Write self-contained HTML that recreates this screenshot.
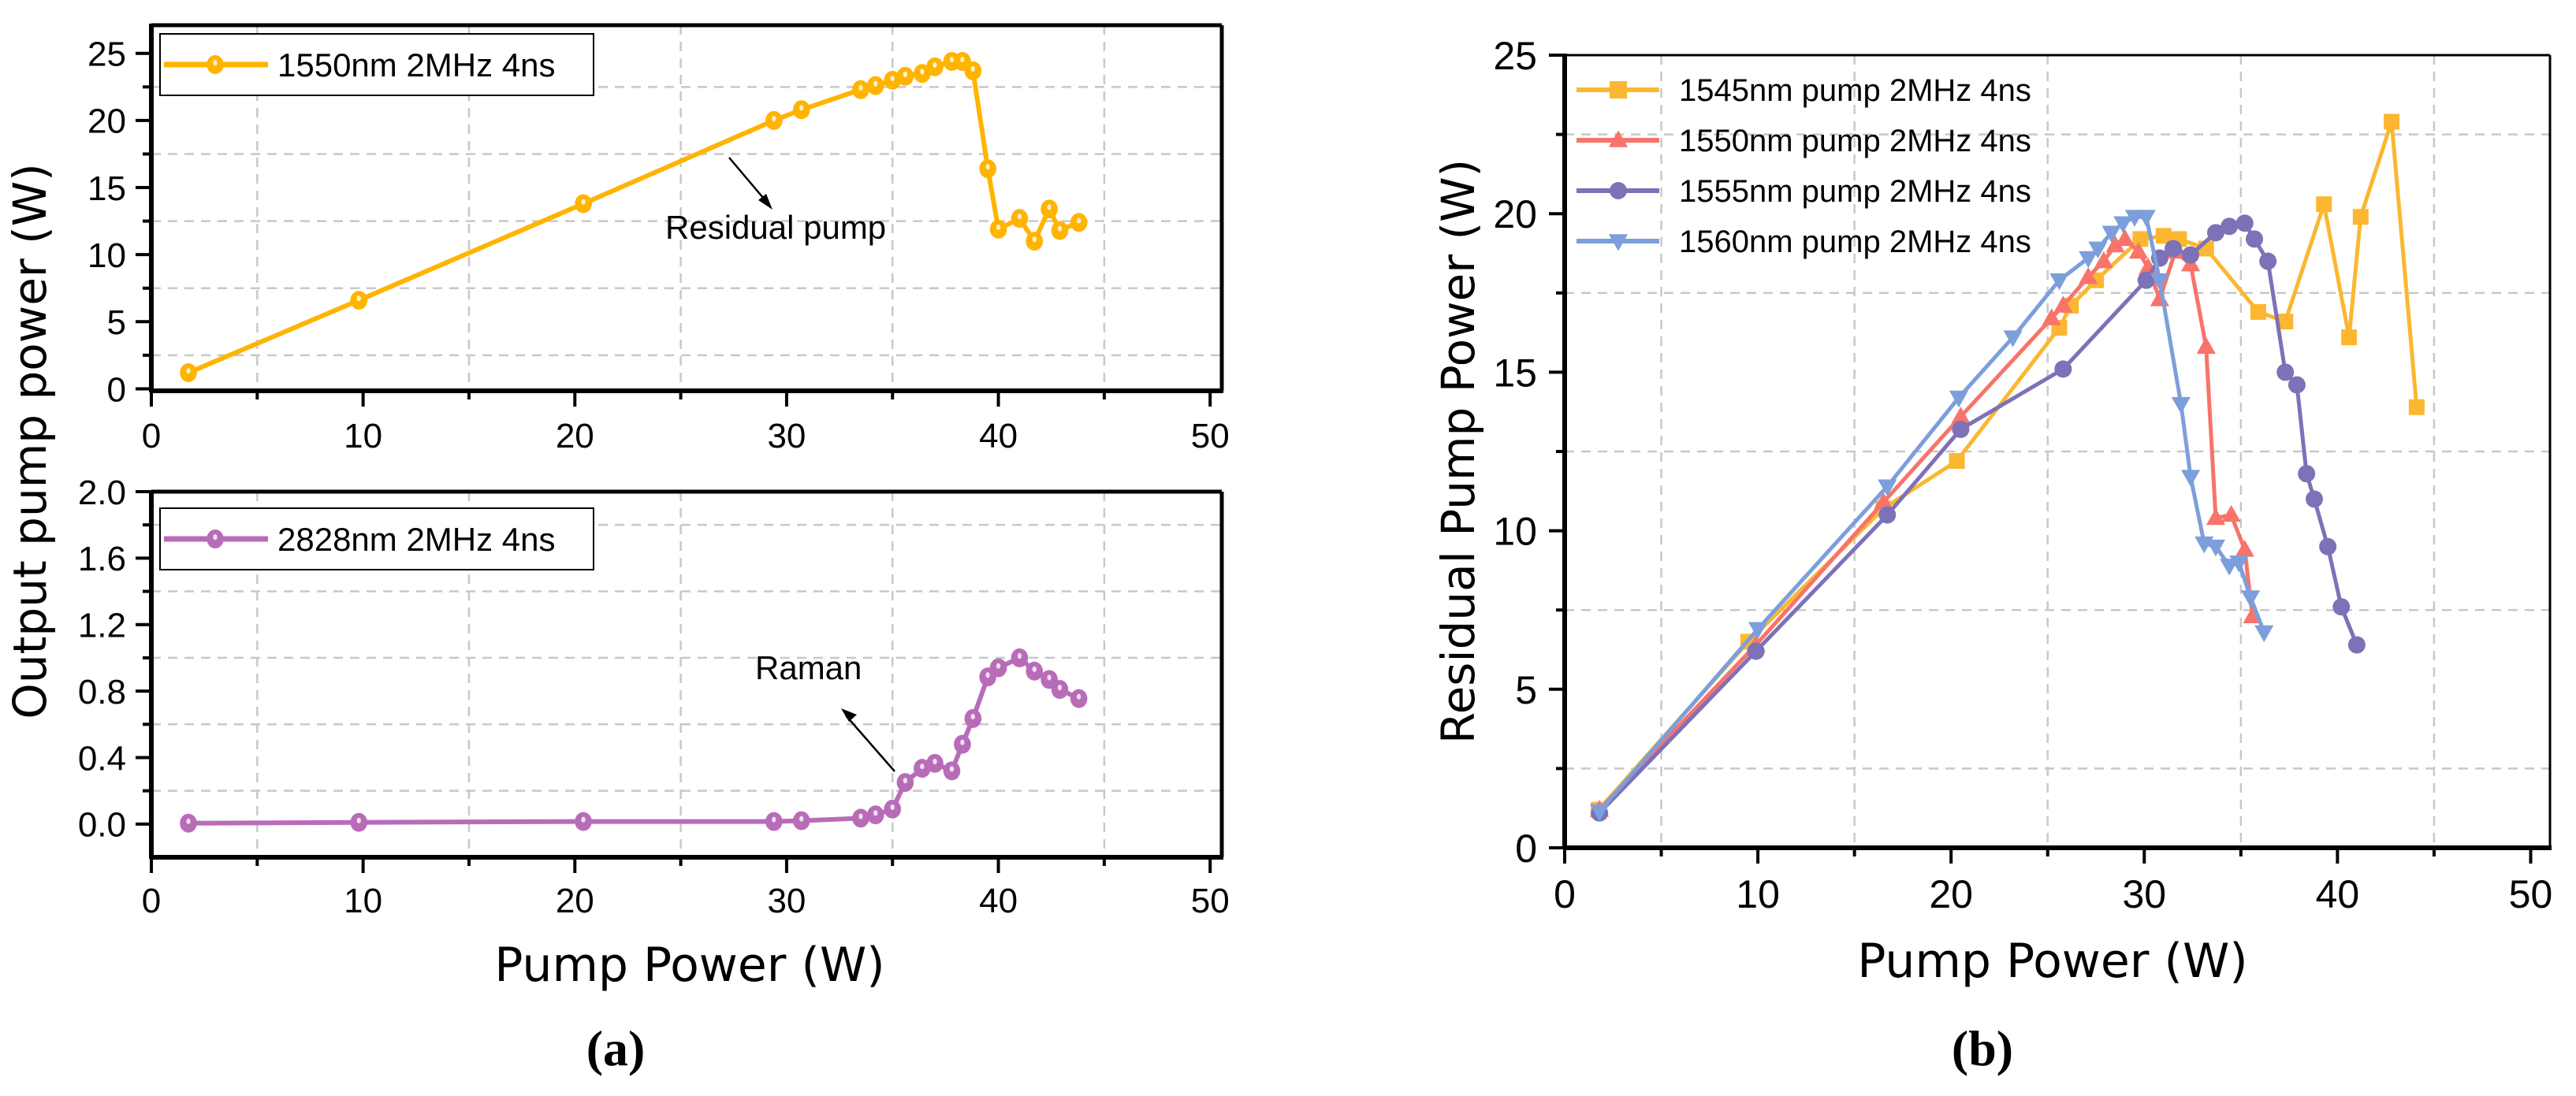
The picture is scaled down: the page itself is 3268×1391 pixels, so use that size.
<!DOCTYPE html>
<html><head><meta charset="utf-8">
<style>
html,body{margin:0;padding:0;background:#fff;}
svg{display:block;}
text{font-family:"Liberation Sans Narrow","Liberation Sans",sans-serif;fill:#000;}
</style></head>
<body>
<svg id="fig" width="3268" height="1391" viewBox="0 0 3268 1391" xmlns="http://www.w3.org/2000/svg"></svg>
<script>
// ---- Panel (a) top: 1550nm residual pump ----
const aX = [1.75,9.8,20.4,29.4,30.7,33.5,34.2,35.0,35.6,36.4,37.0,37.8,38.3,38.8,39.5,40.0,41.0,41.7,42.4,42.9,43.8];
const aTopY = [1.2,6.6,13.8,20.0,20.8,22.3,22.6,23.0,23.3,23.5,24.0,24.4,24.4,23.7,16.4,11.9,12.7,11.0,13.4,11.8,12.4];
// ---- Panel (a) bottom: 2828nm Raman ----
const aBotY = [0.005,0.01,0.015,0.015,0.02,0.035,0.055,0.09,0.25,0.335,0.365,0.32,0.48,0.635,0.885,0.94,1.0,0.92,0.87,0.81,0.755];
const aXTicks = [0,10,20,30,40,50];
const aTopYTicks = [0,5,10,15,20,25];
const aBotYTicks = [0.0,0.4,0.8,1.2,1.6,2.0];
// ---- Panel (b) ----
const b1545X = [1.76,9.5,16.5,20.3,25.6,26.2,27.5,29.8,31.0,31.8,33.2,35.9,37.3,39.3,40.6,41.2,42.8,44.1];
const b1545Y = [1.2,6.5,10.7,12.2,16.4,17.1,17.9,19.2,19.3,19.2,18.9,16.9,16.6,20.3,16.1,19.9,22.9,13.9];
const b1550X = [1.8,9.9,16.5,20.5,25.2,25.8,27.1,27.9,28.5,29.0,29.7,30.2,30.8,31.6,32.4,33.2,33.7,34.5,35.2,35.6];
const b1550Y = [1.2,6.4,10.9,13.6,16.7,17.1,18.0,18.5,19.0,19.2,18.8,18.3,17.3,18.8,18.4,15.8,10.4,10.5,9.4,7.3];
const b1555X = [1.8,9.9,16.7,20.5,25.8,30.1,30.8,31.5,32.4,33.7,34.4,35.2,35.7,36.4,37.3,37.9,38.4,38.8,39.5,40.2,41.0];
const b1555Y = [1.1,6.2,10.5,13.2,15.1,17.9,18.6,18.9,18.7,19.4,19.6,19.7,19.2,18.5,15.0,14.6,11.8,11.0,9.5,7.6,6.4];
const b1560X = [1.8,10.0,16.7,20.4,23.2,25.6,27.1,27.6,28.3,28.9,29.5,30.1,30.8,31.9,32.4,33.1,33.7,34.4,34.9,35.5,36.2];
const b1560Y = [1.15,6.9,11.4,14.2,16.1,17.9,18.6,18.9,19.4,19.7,19.9,19.9,17.9,14.0,11.7,9.6,9.5,8.9,9.0,7.9,6.8];
const bXTicks = [0,10,20,30,40,50];
const bYTicks = [0,5,10,15,20,25];
const bLabels = ["1545nm pump 2MHz 4ns","1550nm pump 2MHz 4ns","1555nm pump 2MHz 4ns","1560nm pump 2MHz 4ns"];

const NS="http://www.w3.org/2000/svg";
const svg=document.getElementById('fig');
function mk(tag,attrs,parent){const e=document.createElementNS(NS,tag);for(const k in attrs)e.setAttribute(k,attrs[k]);(parent||svg).appendChild(e);return e;}
function txt(s,attrs,parent){const e=mk('text',attrs,parent);e.textContent=s;return e;}

function axes(o){
  const sx=v=>o.x0+(v-o.xmin)/(o.xmax-o.xmin)*(o.x1-o.x0);
  const sy=v=>o.y1-(v-o.ymin)/(o.ymax-o.ymin)*(o.y1-o.y0);
  return {sx,sy};
}

function panel(o){
  const g=mk('g',{});
  
  
  const {sx,sy}=axes(o);
  const grid=mk('g',{stroke:'#c8c8c8','stroke-width':2.5,'stroke-dasharray':'12,9'},g);
  
  
  o.xGrid.forEach(v=>mk('line',{x1:sx(v),x2:sx(v),y1:o.y0,y2:o.y1},grid));
  o.yGrid.forEach(v=>mk('line',{x1:o.x0,x2:o.x1,y1:sy(v),y2:sy(v)},grid));
  mk('line',{x1:o.x0,x2:o.x1,y1:o.y0,y2:o.y0,stroke:'#000','stroke-width':o.topW},g);
  mk('line',{x1:o.x1,x2:o.x1,y1:o.y0,y2:o.y1,stroke:'#000','stroke-width':o.topW},g);
  const xa=mk('line',{x1:o.x0-2,x2:o.x1+2,y1:o.y1,y2:o.y1,stroke:'#000','stroke-width':6},g);
  
  
  const ya=mk('line',{x1:o.x0,x2:o.x0,y1:o.y0-2,y2:o.y1+2,stroke:'#000','stroke-width':6},g);
  
  
  o.xTicks.forEach(v=>{
    mk('line',{x1:sx(v),x2:sx(v),y1:o.y1,y2:o.y1+20,stroke:'#000','stroke-width':4},g);
    const t=txt(String(v),{x:sx(v),y:o.xLabY,'font-size':o.tickFs,'text-anchor':'middle'},g);
    
    
  });
  o.xGrid.forEach(v=>mk('line',{x1:sx(v),x2:sx(v),y1:o.y1,y2:o.y1+11,stroke:'#000','stroke-width':4},g));
  o.yTicks.forEach(v=>{
    mk('line',{x1:o.x0-20,x2:o.x0,y1:sy(v),y2:sy(v),stroke:'#000','stroke-width':4},g);
    const t=txt(o.fmt(v),{x:o.yLabX,y:sy(v)+o.tickFs*0.36,'font-size':o.tickFs,'text-anchor':'end'},g);
    
    
  });
  o.yGrid.forEach(v=>mk('line',{x1:o.x0-11,x2:o.x0,y1:sy(v),y2:sy(v),stroke:'#000','stroke-width':4},g));
  return {g,sx,sy};
}

function marker(kind,cx,cy,r,color,parent){
  let m;
  if(kind==='ball'){
    m=mk('g',{},parent);
    mk('ellipse',{cx,cy,rx:r*0.9,ry:r,fill:color},m);
    mk('ellipse',{cx:cx,cy:cy-r*0.2,rx:r*0.22,ry:r*0.3,fill:'#fff','fill-opacity':0.8},m);
  } else if(kind==='circle'){
    m=mk('circle',{cx,cy,r,fill:color},parent);
  } else if(kind==='square'){
    m=mk('rect',{x:cx-r,y:cy-r,width:2*r,height:2*r,fill:color},parent);
  } else if(kind==='tri'){
    m=mk('polygon',{points:`${cx},${cy-r*1.15} ${cx-r*1.1},${cy+r*0.8} ${cx+r*1.1},${cy+r*0.8}`,fill:color},parent);
  } else {
    m=mk('polygon',{points:`${cx},${cy+r*1.15} ${cx-r*1.1},${cy-r*0.8} ${cx+r*1.1},${cy-r*0.8}`,fill:color},parent);
  }
  return m;
}

function series(P,xs,ys,color,kind,r,name,lw){
  const g=mk('g',{},P.g);
  
  
  const pts=xs.map((x,i)=>P.sx(x)+','+P.sy(ys[i])).join(' ');
  mk('polyline',{points:pts,fill:'none',stroke:color,'stroke-width':lw,'stroke-linejoin':'round'},g);
  xs.forEach((x,i)=>{
    const m=marker(kind,P.sx(x),P.sy(ys[i]),r,color,g);
    
    
  });
}

const PT=panel({name:'plot-a-top',x0:192,x1:1550,xmin:0,xmax:50.55,y0:32,y1:496,ymin:-0.15,ymax:27.1,
  xGrid:[5,15,25,35,45],yGrid:[2.5,7.5,12.5,17.5,22.5],xTicks:aXTicks,yTicks:aTopYTicks,
  xLabY:568,yLabX:160,tickFs:44,topW:5,fmt:v=>String(v)});
series(PT,aX,aTopY,'#FFB400','ball',12,'series-1550nm-residual',6);
const PB=panel({name:'plot-a-bottom',x0:192,x1:1550,xmin:0,xmax:50.55,y0:624,y1:1088,ymin:-0.2,ymax:2.0,
  xGrid:[5,15,25,35,45],yGrid:[0.2,0.6,1.0,1.4,1.8],xTicks:aXTicks,yTicks:aBotYTicks,
  xLabY:1158,yLabX:160,tickFs:44,topW:5,fmt:v=>v.toFixed(1)});
series(PB,aX,aBotY,'#B86CB8','ball',12,'series-2828nm-raman',6);

function boxLegend(y0,color,label,name){
  const g=mk('g',{});
  
  
  mk('rect',{x:203,y:y0,width:550,height:78,fill:'#fff',stroke:'#000','stroke-width':2},g);
  mk('line',{x1:208,x2:340,y1:y0+39,y2:y0+39,stroke:color,'stroke-width':7},g);
  marker('ball',273,y0+39,12,color,g);
  txt(label,{x:352,y:y0+54,'font-size':42},g);
}
boxLegend(43,'#FFB400','1550nm 2MHz 4ns','legend-1550nm');
boxLegend(645,'#B86CB8','2828nm 2MHz 4ns','legend-2828nm');

const an1=mk('g',{});


mk('line',{x1:925,y1:200,x2:974,y2:258,stroke:'#000','stroke-width':2.5},an1);
mk('polygon',{points:'980,266 962,254 972,246',fill:'#000'},an1);
txt('Residual pump',{x:844,y:303,'font-size':42},an1);
const an2=mk('g',{});


mk('line',{x1:1135,y1:979,x2:1073,y2:908,stroke:'#000','stroke-width':2.5},an2);
mk('polygon',{points:'1067,899 1087,907 1077,916',fill:'#000'},an2);
txt('Raman',{x:958,y:862,'font-size':42},an2);

const yta=txt('Output pump power (W)',{x:0,y:0,'font-size':58,'text-anchor':'middle',transform:'translate(58,560) rotate(-90)',style:'font-family:"DejaVu Sans","Liberation Sans",sans-serif'});


const xta=txt('Pump Power (W)',{x:875,y:1245,'font-size':60,'text-anchor':'middle',style:'font-family:"DejaVu Sans","Liberation Sans",sans-serif'});


const la=txt('(a)',{x:781,y:1352,'font-size':64,'text-anchor':'middle','font-weight':'bold',style:'font-family:"Liberation Serif",serif'});



const PR=panel({name:'plot-b',x0:1985,x1:3235,xmin:0,xmax:51,y0:70,y1:1076,ymin:0,ymax:25,
  xGrid:[5,15,25,35,45],yGrid:[2.5,7.5,12.5,17.5,22.5],xTicks:bXTicks,yTicks:bYTicks,
  xLabY:1152,yLabX:1950,tickFs:50,topW:3,fmt:v=>String(v)});
series(PR,b1545X,b1545Y,'#FBB731','square',10,'series-1545nm',5);
series(PR,b1550X,b1550Y,'#F8736A','tri',11,'series-1550nm',5);
series(PR,b1555X,b1555Y,'#7D71B8','circle',11,'series-1555nm',5);
series(PR,b1560X,b1560Y,'#7C9FDB','dtri',11,'series-1560nm',5);

const bCols=['#FBB731','#F8736A','#7D71B8','#7C9FDB'];
const bKinds=['square','tri','circle','dtri'];
bLabels.forEach((s,i)=>{
  const g=mk('g',{});
  
  
  const y=114+i*64;
  mk('line',{x1:2000,x2:2105,y1:y,y2:y,stroke:bCols[i],'stroke-width':6},g);
  marker(bKinds[i],2053,y,11,bCols[i],g);
  txt(s,{x:2130,y:y+14,'font-size':40},g);
});
const ytb=txt('Residual Pump Power (W)',{x:0,y:0,'font-size':58,'text-anchor':'middle',transform:'translate(1870,573) rotate(-90)',style:'font-family:"DejaVu Sans","Liberation Sans",sans-serif'});


const xtb=txt('Pump Power (W)',{x:2604,y:1240,'font-size':60,'text-anchor':'middle',style:'font-family:"DejaVu Sans","Liberation Sans",sans-serif'});


const lb=txt('(b)',{x:2515,y:1352,'font-size':64,'text-anchor':'middle','font-weight':'bold',style:'font-family:"Liberation Serif",serif'});


</script>
</body></html>
